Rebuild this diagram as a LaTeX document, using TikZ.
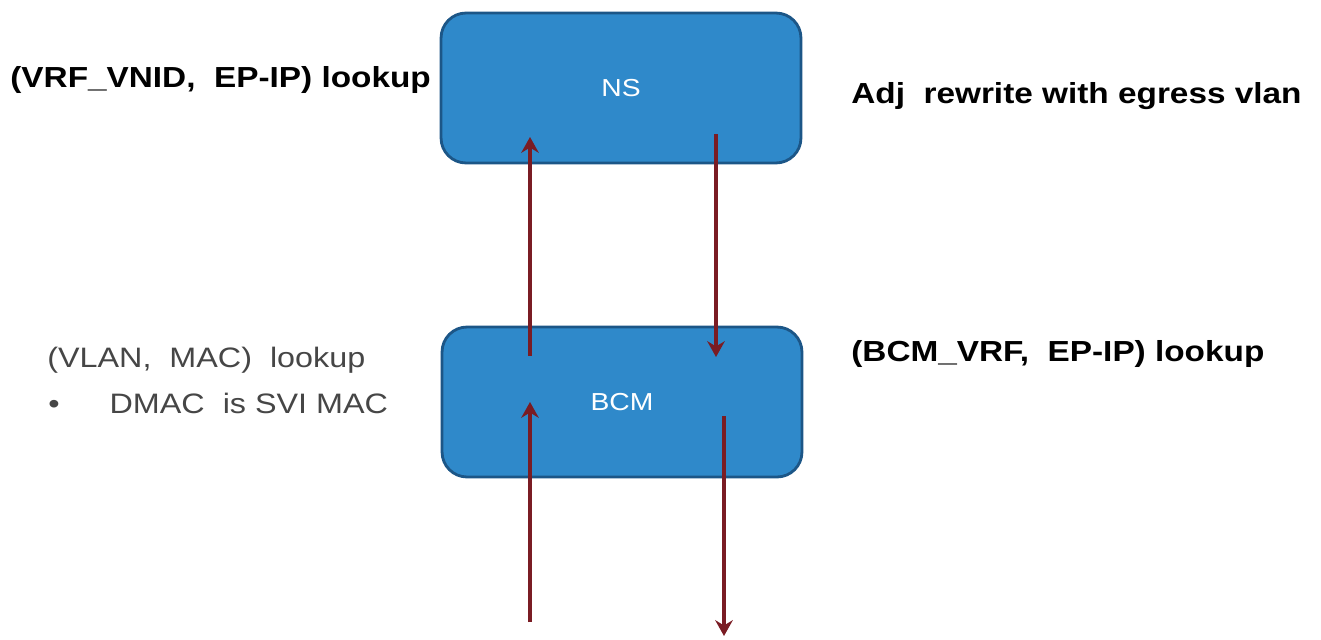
\documentclass[tikz,border=0pt]{standalone}
\usepackage{fontspec}
\setmainfont{Liberation Sans}
\newfontfamily\widesans[FakeStretch=1.15]{Liberation Sans}
\usetikzlibrary{arrows.meta}
\definecolor{boxfill}{RGB}{47,137,202}
\definecolor{boxline}{RGB}{28,86,135}
\definecolor{arr}{RGB}{122,28,36}
\definecolor{graytxt}{RGB}{70,70,70}
\begin{document}
\begin{tikzpicture}[x=0.02cm,y=-0.02cm,
  blockbox/.style={draw=boxline,fill=boxfill,line width=1.6pt,rounded corners=0.5cm,
    minimum width=7.2cm,minimum height=3.0cm,text=white,font=\widesans\fontsize{14}{16}\selectfont},
  flow/.style={draw=arr,line width=1.8pt,-{Stealth[length=9pt,width=10pt,inset=3pt]}},
  boldlbl/.style={font=\widesans\bfseries\fontsize{16.5}{19}\selectfont,anchor=west,inner sep=0pt},
  thinlbl/.style={font=\widesans\fontsize{16}{19}\selectfont,text=graytxt,anchor=west,inner sep=0pt}]
\useasboundingbox (0,0) rectangle (1321,639);
\node[blockbox] (ns) at (621,88) {NS};
\node[blockbox] (bcm) at (622,402) {BCM};
\coordinate (inbot) at (530,622);
\coordinate (bcmin) at (530,402);
\coordinate (bcmup) at (530,356);
\coordinate (nsin) at (530,137);
\coordinate (nsdown) at (716,134);
\coordinate (bcmtop) at (716,357);
\coordinate (bcmout) at (724,416);
\coordinate (outbot) at (724,636);
\draw[flow] (inbot) -- (bcmin);
\draw[flow] (bcmup) -- (nsin);
\draw[flow] (nsdown) -- (bcmtop);
\draw[flow] (bcmout) -- (outbot);
\node[boldlbl] (t1) at (10,80) {(VRF\_VNID,\ \ EP-IP) lookup};
\node[boldlbl] (t2) at (851,96) {Adj\ \ rewrite with egress vlan};
\node[boldlbl] (t3) at (851,354) {(BCM\_VRF,\ \ EP-IP) lookup};
\node[thinlbl] (t4) at (47,360) {(VLAN,\ \ MAC)\ \ lookup};
\node[thinlbl] (t5) at (48,403) {\textbullet\hspace{1.0cm}DMAC\ \ is SVI MAC};
\end{tikzpicture}
\end{document}
